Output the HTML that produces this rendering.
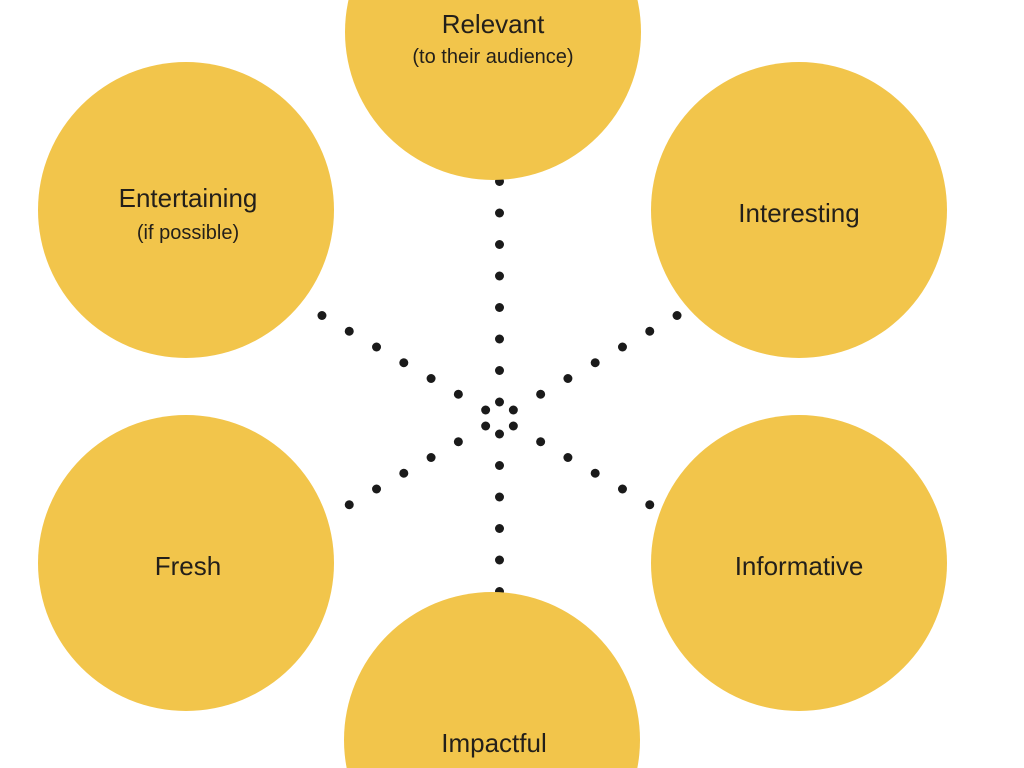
<!DOCTYPE html>
<html><head><meta charset="utf-8"><style>
html,body{margin:0;padding:0;background:#fff;width:1024px;height:768px;overflow:hidden;}
svg{display:block;}
text{font-family:"Liberation Sans",sans-serif;fill:#231f1a;text-anchor:middle;}
.t{font-size:26px;}
.s{font-size:20px;}
</style></head><body>
<svg width="1024" height="768" viewBox="0 0 1024 768" xmlns="http://www.w3.org/2000/svg">
<rect width="1024" height="768" fill="#fff"/>
<g fill="#1a1a1a" id="dots"></g>
<g fill="#f2c54b">
<circle cx="493" cy="32" r="148"/>
<circle cx="186" cy="210" r="148"/>
<circle cx="799" cy="210" r="148"/>
<circle cx="186" cy="563" r="148"/>
<circle cx="799" cy="563" r="148"/>
<circle cx="492" cy="740" r="148"/>
</g>
<text class="t" x="493" y="33">Relevant</text>
<text class="s" x="493" y="63">(to their audience)</text>
<text class="t" x="188" y="207">Entertaining</text>
<text class="s" x="188" y="239">(if possible)</text>
<text class="t" x="799" y="222">Interesting</text>
<text class="t" x="188" y="575">Fresh</text>
<text class="t" x="799" y="575">Informative</text>
<text class="t" x="494" y="752">Impactful</text>
</svg>
<script>
var g=document.getElementById('dots'),cx=499.5,cy=418,ns='http://www.w3.org/2000/svg';
[90,270,30,150,210,330].forEach(function(a){
 var r=a*Math.PI/180,n=(a==90||a==270)?8:7;
 for(var k=0;k<n;k++){var d=16+31.5*k;var c=document.createElementNS(ns,'circle');
 c.setAttribute('cx',cx+d*Math.cos(r));c.setAttribute('cy',cy-d*Math.sin(r));c.setAttribute('r',4.5);g.appendChild(c);}
});
</script>
</body></html>
